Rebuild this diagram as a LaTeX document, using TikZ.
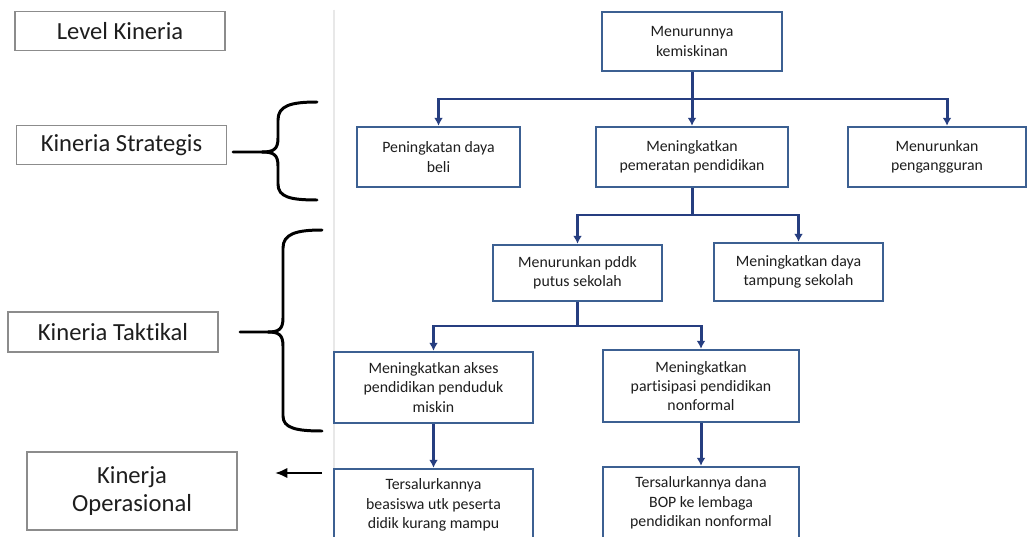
\documentclass[tikz,border=0pt]{standalone}
\usepackage{fontspec}
\setmainfont{Carlito}[Ligatures=NoCommon]
\usepackage{tikz}
\usetikzlibrary{arrows.meta,positioning,calc}
\definecolor{KinBlue}{RGB}{60,96,146}
\definecolor{KinLine}{RGB}{38,62,128}
\definecolor{KinGray}{RGB}{140,140,140}
\definecolor{KinText}{RGB}{30,30,30}
\definecolor{KinFaint}{RGB}{232,232,232}
\tikzset{
  kin/lvlbox/.style={
    draw=KinGray,
    line width=0.8pt,
    fill=white,
    align=center,
    text=KinText,
    minimum width=4.2cm,
    minimum height=0.78cm,
    inner sep=2pt,
    font=\fontsize{14}{16}\selectfont
  },
  kin/goalbox/.style={
    draw=KinBlue,
    line width=1.4pt,
    fill=white,
    align=center,
    text=KinText,
    inner sep=2pt,
    font=\fontsize{9}{11}\selectfont
  },
  kin/link/.style={line width=1.7pt, draw=KinLine},
  kin/arrow/.style={-{Latex[length=4.5pt,width=5pt]}, line width=1.7pt, draw=KinLine},
  kin/brace/.style={line width=1.7pt, draw=black, line cap=round, line join=round},
  kin/pointer/.style={-{Latex[length=7pt,width=6pt]}, line width=1.7pt, draw=black}
}

\begin{document}
\begin{tikzpicture}[x=0.02cm,y=-0.02cm]
  \useasboundingbox[fill=white] (0,0) rectangle (1027,537);
  % faint edge of the pasted chart
  \draw[KinFaint,line width=0.6pt] (334,10) -- (334,537);

  % level labels
  \node[kin/lvlbox] (level) at (120,31) {Level Kineria};
  \node[kin/lvlbox] (strategis) at (121.5,145) {Kineria Strategis};
  \node[kin/lvlbox,minimum height=0.8cm] (taktikal) at (113,332) {Kineria Taktikal};
  \node[kin/lvlbox,minimum height=1.56cm] (operasional) at (132,491) {Kinerja\\Operasional};

  % braces
  \draw[kin/brace] (317,102) .. controls (290,102) and (278,106) .. (278,120) -- (278,138)
    .. controls (278,149) and (274,152) .. (262,152) -- (233,152);
  \draw[kin/brace] (262,152) .. controls (274,152) and (278,155) .. (278,166) -- (278,184)
    .. controls (278,197) and (290,200) .. (317,200);
  \draw[kin/brace] (322,230) .. controls (296,230) and (283,234) .. (283,248) -- (283,318)
    .. controls (283,329) and (279,332) .. (268,332) -- (240,332);
  \draw[kin/brace] (268,332) .. controls (279,332) and (283,335) .. (283,346) -- (283,416)
    .. controls (283,428) and (296,431) .. (322,431);
  \coordinate (opTail) at (322,473);
  \coordinate (opHead) at (275,473);
  \draw[kin/pointer] (opTail) -- (opHead);

  % goal tree
  \node[kin/goalbox,minimum width=3.6cm,minimum height=1.18cm] (kemiskinan) at (692,41.5) {Menurunnya\\kemiskinan};
  \node[kin/goalbox,minimum width=3.26cm,minimum height=1.2cm] (beli) at (438.5,157) {Peningkatan daya\\beli};
  \node[kin/goalbox,minimum width=3.84cm,minimum height=1.2cm] (pemerataan) at (692,157) {Meningkatkan\\pemeratan pendidikan};
  \node[kin/goalbox,minimum width=3.56cm,minimum height=1.2cm] (pengangguran) at (937,157) {Menurunkan\\pengangguran};
  \node[kin/goalbox,minimum width=3.38cm,minimum height=1.12cm] (putus) at (577.5,273) {Menurunkan pddk\\putus sekolah};
  \node[kin/goalbox,minimum width=3.38cm,minimum height=1.16cm] (tampung) at (798.5,272) {Meningkatkan daya\\tampung sekolah};
  \node[kin/goalbox,minimum width=3.98cm,minimum height=1.42cm] (akses) at (433.5,387.5) {Meningkatkan akses\\pendidikan penduduk\\miskin};
  \node[kin/goalbox,minimum width=3.92cm,minimum height=1.44cm] (partisipasi) at (701,386) {Meningkatkan\\partisipasi pendidikan\\nonformal};
  \node[kin/goalbox,minimum width=3.98cm,minimum height=1.44cm] (beasiswa) at (433.5,505) {Tersalurkannya\\beasiswa utk peserta\\didik kurang mampu};
  \node[kin/goalbox,minimum width=3.92cm,minimum height=1.44cm] (bop) at (701,503) {Tersalurkannya dana\\BOP ke lembaga\\pendidikan nonformal};

  \coordinate (busA) at (692,99);
  \coordinate (busB) at (692,215);
  \coordinate (busC) at (577.5,326);
  \draw[kin/link] (kemiskinan) -- (busA);
  \draw[kin/arrow] (busA) -| (beli);
  \draw[kin/arrow] (busA) -- (pemerataan);
  \draw[kin/arrow] (busA) -| ([xshift=5.7pt]pengangguran.north);
  \draw[kin/link] (pemerataan) -- (busB);
  \draw[kin/arrow] (busB) -| (putus);
  \draw[kin/arrow] (busB) -| (tampung);
  \draw[kin/link] (putus) -- (busC);
  \draw[kin/arrow] (busC) -| (akses);
  \draw[kin/arrow] (busC) -| (partisipasi);
  \draw[kin/arrow] (akses) -- (beasiswa);
  \draw[kin/arrow] (partisipasi) -- (bop);
\end{tikzpicture}
\end{document}
